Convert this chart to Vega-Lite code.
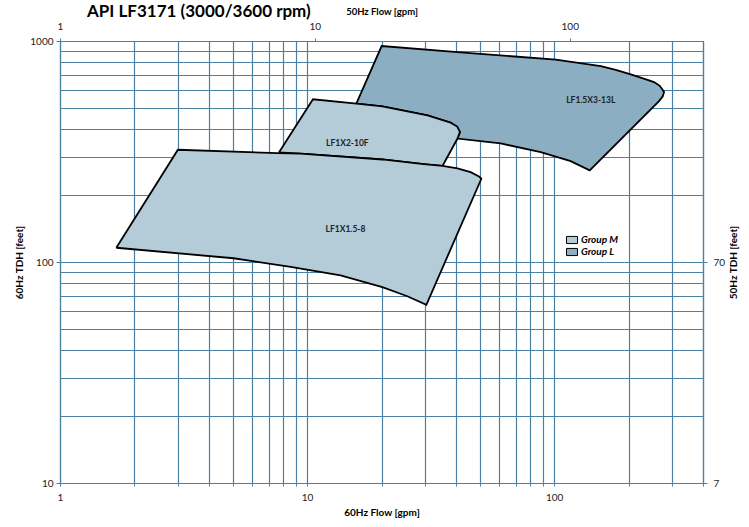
{
  "$schema": "https://vega.github.io/schema/vega-lite/v6.json",
  "width": 643,
  "height": 442,
  "autosize": {"type": "none"},
  "padding": {"left": 60, "top": 41, "right": 46, "bottom": 44},
  "background": "white",
  "config": {"font": "Lato", "view": {"stroke": null}},
  "title": {"text": "API LF3171 (3000/3600 rpm)", "anchor": "start", "frame": "group", "fontSize": 17, "fontWeight": "bold", "color": "black", "dx": 27, "baseline": "alphabetic", "offset": -28},
  "datasets": {
    "shapes": [
      {"shape": "LF1.5X3-13L", "group": "Group L", "order": 1, "flow": 15.82, "head": 521},
      {"shape": "LF1.5X3-13L", "group": "Group L", "order": 2, "flow": 20.03, "head": 949},
      {"shape": "LF1.5X3-13L", "group": "Group L", "order": 3, "flow": 41.8, "head": 888},
      {"shape": "LF1.5X3-13L", "group": "Group L", "order": 4, "flow": 101.4, "head": 824},
      {"shape": "LF1.5X3-13L", "group": "Group L", "order": 5, "flow": 154.3, "head": 769},
      {"shape": "LF1.5X3-13L", "group": "Group L", "order": 6, "flow": 177.4, "head": 741},
      {"shape": "LF1.5X3-13L", "group": "Group L", "order": 7, "flow": 204, "head": 707},
      {"shape": "LF1.5X3-13L", "group": "Group L", "order": 8, "flow": 230.3, "head": 675},
      {"shape": "LF1.5X3-13L", "group": "Group L", "order": 9, "flow": 253.5, "head": 652},
      {"shape": "LF1.5X3-13L", "group": "Group L", "order": 10, "flow": 267.4, "head": 627},
      {"shape": "LF1.5X3-13L", "group": "Group L", "order": 11, "flow": 278.3, "head": 588},
      {"shape": "LF1.5X3-13L", "group": "Group L", "order": 12, "flow": 275, "head": 562},
      {"shape": "LF1.5X3-13L", "group": "Group L", "order": 13, "flow": 264.9, "head": 533},
      {"shape": "LF1.5X3-13L", "group": "Group L", "order": 14, "flow": 139.2, "head": 260},
      {"shape": "LF1.5X3-13L", "group": "Group L", "order": 15, "flow": 116.6, "head": 286},
      {"shape": "LF1.5X3-13L", "group": "Group L", "order": 16, "flow": 88.2, "head": 314},
      {"shape": "LF1.5X3-13L", "group": "Group L", "order": 17, "flow": 60.7, "head": 344},
      {"shape": "LF1.5X3-13L", "group": "Group L", "order": 18, "flow": 40.6, "head": 362},
      {"shape": "LF1.5X3-13L", "group": "Group L", "order": 19, "flow": 41.55, "head": 388},
      {"shape": "LF1.5X3-13L", "group": "Group L", "order": 20, "flow": 38.1, "head": 427},
      {"shape": "LF1.5X3-13L", "group": "Group L", "order": 21, "flow": 30.7, "head": 461},
      {"shape": "LF1.5X3-13L", "group": "Group L", "order": 22, "flow": 20.16, "head": 506},
      {"shape": "LF1.5X3-13L", "group": "Group L", "order": 23, "flow": 15.82, "head": 521},

      {"shape": "LF1X2-10F", "group": "Group M", "order": 1, "flow": 7.69, "head": 313},
      {"shape": "LF1X2-10F", "group": "Group M", "order": 2, "flow": 10.56, "head": 545},
      {"shape": "LF1X2-10F", "group": "Group M", "order": 3, "flow": 15.86, "head": 521},
      {"shape": "LF1X2-10F", "group": "Group M", "order": 4, "flow": 20.16, "head": 506},
      {"shape": "LF1X2-10F", "group": "Group M", "order": 5, "flow": 30.7, "head": 461},
      {"shape": "LF1X2-10F", "group": "Group M", "order": 6, "flow": 38.1, "head": 427},
      {"shape": "LF1X2-10F", "group": "Group M", "order": 7, "flow": 40.5, "head": 410},
      {"shape": "LF1X2-10F", "group": "Group M", "order": 8, "flow": 41.55, "head": 388},
      {"shape": "LF1X2-10F", "group": "Group M", "order": 9, "flow": 40.6, "head": 362},
      {"shape": "LF1X2-10F", "group": "Group M", "order": 10, "flow": 35.3, "head": 272},
      {"shape": "LF1X2-10F", "group": "Group M", "order": 11, "flow": 29.63, "head": 277},
      {"shape": "LF1X2-10F", "group": "Group M", "order": 12, "flow": 20.16, "head": 291},
      {"shape": "LF1X2-10F", "group": "Group M", "order": 13, "flow": 9.41, "head": 309},
      {"shape": "LF1X2-10F", "group": "Group M", "order": 14, "flow": 7.69, "head": 313},

      {"shape": "LF1X1.5-8", "group": "Group M", "order": 1, "flow": 1.69, "head": 116},
      {"shape": "LF1X1.5-8", "group": "Group M", "order": 2, "flow": 3.0, "head": 322},
      {"shape": "LF1X1.5-8", "group": "Group M", "order": 3, "flow": 7.57, "head": 311},
      {"shape": "LF1X1.5-8", "group": "Group M", "order": 4, "flow": 9.41, "head": 309},
      {"shape": "LF1X1.5-8", "group": "Group M", "order": 5, "flow": 20.16, "head": 291},
      {"shape": "LF1X1.5-8", "group": "Group M", "order": 6, "flow": 29.63, "head": 277},
      {"shape": "LF1X1.5-8", "group": "Group M", "order": 7, "flow": 35.3, "head": 272},
      {"shape": "LF1X1.5-8", "group": "Group M", "order": 8, "flow": 40.56, "head": 265},
      {"shape": "LF1X1.5-8", "group": "Group M", "order": 9, "flow": 45.9, "head": 255},
      {"shape": "LF1X1.5-8", "group": "Group M", "order": 10, "flow": 49.6, "head": 244},
      {"shape": "LF1X1.5-8", "group": "Group M", "order": 11, "flow": 50.7, "head": 238},
      {"shape": "LF1X1.5-8", "group": "Group M", "order": 12, "flow": 30.38, "head": 64},
      {"shape": "LF1X1.5-8", "group": "Group M", "order": 13, "flow": 25.45, "head": 70},
      {"shape": "LF1X1.5-8", "group": "Group M", "order": 14, "flow": 20.16, "head": 77},
      {"shape": "LF1X1.5-8", "group": "Group M", "order": 15, "flow": 13.66, "head": 87},
      {"shape": "LF1X1.5-8", "group": "Group M", "order": 16, "flow": 8.58, "head": 95},
      {"shape": "LF1X1.5-8", "group": "Group M", "order": 17, "flow": 5.04, "head": 104},
      {"shape": "LF1X1.5-8", "group": "Group M", "order": 18, "flow": 1.69, "head": 116}
    ],
    "labels": [
      {"name": "LF1X1.5-8", "flow": 14.3, "head": 141.6},
      {"name": "LF1X2-10F", "flow": 14.55, "head": 345.6},
      {"name": "LF1.5X3-13L", "flow": 140.6, "head": 539}
    ],
    "top": [{"f50": 1}, {"f50": 333.33}],
    "right": [{"h50": 7}, {"h50": 700}]
  },
  "layer": [
    {
      "layer": [
        {
          "data": {"name": "shapes"},
          "transform": [{"filter": "datum.group === 'Group L'"}],
          "mark": {"type": "line", "stroke": "black", "strokeWidth": 1.8, "fillOpacity": 1},
          "encoding": {
            "x": {"field": "flow", "type": "quantitative", "scale": {"type": "log", "domain": [1, 400], "nice": false},
              "axis": {"orient": "bottom", "values": [1,2,3,4,5,6,7,8,9,10,20,30,40,50,60,70,80,90,100,200,300,400],
                "format": "d", "labelExpr": "indexof([1,10,100], datum.value) >= 0 ? datum.label : ''",
                "labelOverlap": false, "labelFlush": false, "grid": true, "gridColor": "#4a80a4", "gridWidth": 1.2,
                "domainColor": "#4a80a4", "domainWidth": 1.2, "tickColor": "#4a80a4", "tickSize": 3,
                "labelPadding": 6, "labelFontSize": 10, "labelColor": "#222",
                "title": "60Hz Flow [gpm]", "titleFontSize": 10, "titleFontWeight": "bold", "titleColor": "black", "titlePadding": 5}},
            "y": {"field": "head", "type": "quantitative", "scale": {"type": "log", "domain": [10, 1000], "nice": false},
              "axis": {"orient": "left", "values": [10,20,30,40,50,60,70,80,90,100,200,300,400,500,600,700,800,900,1000],
                "format": "d", "labelExpr": "indexof([10,100,1000], datum.value) >= 0 ? datum.label : ''",
                "labelOverlap": false, "labelFlush": false, "grid": true, "gridColor": "#4a80a4", "gridWidth": 1.2,
                "domainColor": "#4a80a4", "domainWidth": 1.2, "tickColor": "#4a80a4", "tickSize": 4,
                "tickOpacity": {"condition": {"test": "indexof([10,100,1000], datum.value) >= 0", "value": 1}, "value": 0},
                "labelPadding": 3, "labelFontSize": 10, "labelColor": "#222",
                "title": "60Hz TDH [feet]", "titleFontSize": 10, "titleFontWeight": "bold", "titleColor": "black",
                "titleX": -41, "titleY": 221, "titleBaseline": "middle", "titleAngle": -90}},
            "detail": {"field": "shape"},
            "order": {"field": "order", "type": "quantitative"},
            "fill": {"field": "group", "type": "nominal",
              "scale": {"domain": ["Group M", "Group L"], "range": ["#b4ccd8", "#8baec2"]},
              "legend": {"orient": "none", "legendX": 506, "legendY": 193, "title": null,
                "symbolType": "M-1,-0.65H1V0.65H-1Z", "symbolSize": 121, "symbolStrokeColor": "#444", "symbolStrokeWidth": 1,
                "labelFontSize": 10, "labelFontStyle": "italic", "labelFontWeight": "bold", "labelColor": "black",
                "rowPadding": 0, "labelOffset": 3}}
          }
        },
        {
          "data": {"name": "shapes"},
          "transform": [{"filter": "datum.group === 'Group M'"}],
          "mark": {"type": "line", "stroke": "black", "strokeWidth": 1.8, "fillOpacity": 1},
          "encoding": {
            "x": {"field": "flow", "type": "quantitative"},
            "y": {"field": "head", "type": "quantitative"},
            "detail": {"field": "shape"},
            "order": {"field": "order", "type": "quantitative"},
            "fill": {"field": "group", "type": "nominal"}
          }
        },
        {
          "data": {"name": "labels"},
          "mark": {"type": "text", "fontSize": 8.5, "fontWeight": "bold", "color": "#222"},
          "encoding": {
            "x": {"field": "flow", "type": "quantitative"},
            "y": {"field": "head", "type": "quantitative"},
            "text": {"field": "name"}
          }
        }
      ]
    },
    {
      "data": {"name": "top"},
      "mark": {"type": "point", "opacity": 0},
      "encoding": {
        "x": {"field": "f50", "type": "quantitative", "scale": {"type": "log", "domain": [1, 333.33], "nice": false},
          "axis": {"orient": "top", "values": [1, 10, 100], "format": "d", "grid": false, "labelFlush": false, "labelOverlap": false,
            "domainColor": "#4a80a4", "domainWidth": 1.2, "tickColor": "#4a80a4", "tickSize": 3,
            "labelPadding": 7, "labelFontSize": 10, "labelColor": "#222",
            "title": "50Hz Flow [gpm]", "titleFontSize": 9.5, "titleFontWeight": "bold", "titleColor": "black", "titlePadding": 5}}
      }
    },
    {
      "data": {"name": "right"},
      "mark": {"type": "point", "opacity": 0},
      "encoding": {
        "y": {"field": "h50", "type": "quantitative", "scale": {"type": "log", "domain": [7, 700], "nice": false},
          "axis": {"orient": "right", "values": [7, 70], "format": "d", "grid": false, "labelFlush": false, "labelOverlap": false,
            "domainColor": "#4a80a4", "domainWidth": 1.2, "tickColor": "#4a80a4", "tickSize": 4,
            "labelPadding": 6, "labelFontSize": 10, "labelColor": "#222",
            "title": "50Hz TDH [feet]", "titleAngle": -90, "titleFontSize": 10, "titleFontWeight": "bold", "titleColor": "black",
            "titleX": 30, "titleY": 221, "titleBaseline": "middle"}}
      }
    }
  ],
  "resolve": {"scale": {"x": "independent", "y": "independent"}, "axis": {"x": "independent", "y": "independent"}}
}
